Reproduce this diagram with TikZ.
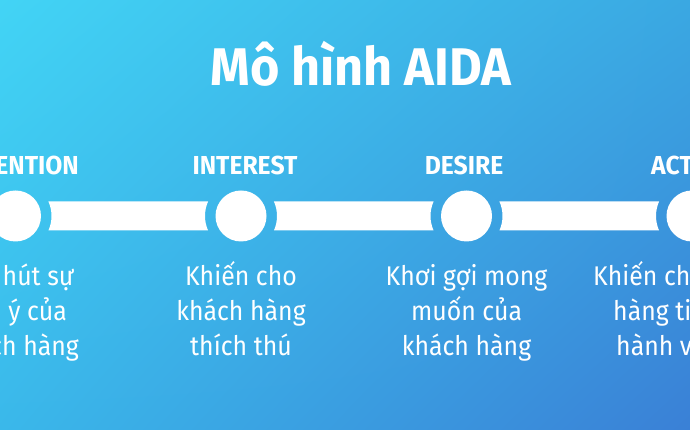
\documentclass[tikz,border=0pt]{standalone}
\usepackage{fontspec}
\setmainfont{Fira Sans}[FakeStretch=0.92]
\newfontfamily\titlefont{Fira Sans}[FakeStretch=0.95]
\usetikzlibrary{calc,shadings}
\definecolor{bgTL}{RGB}{66,212,245}
\definecolor{bgTR}{RGB}{58,168,226}
\definecolor{bgBL}{RGB}{58,184,234}
\definecolor{bgBR}{RGB}{58,128,214}
\newcommand\connbar[2]{%
  \fill[white] ($(#1)+(23.75:36)$) -- ($(#2)+(156.25:36)$)
    arc[start angle=156.25, end angle=203.75, radius=36]
    -- ($(#1)+(-23.75:36)$)
    arc[start angle=-23.75, end angle=23.75, radius=36] -- cycle;}
\tikzset{
  dot/.style={circle, fill=white, minimum size=51pt, inner sep=0pt},
  steplabel/.style={text=white, anchor=base, inner sep=0pt, font=\titlefont\bfseries\fontsize{26}{26}\selectfont},
  desc/.style={text=white, anchor=base, inner sep=0pt, font=\fontsize{27}{35}\selectfont},
  titletext/.style={text=white, anchor=base, inner sep=0pt, font=\titlefont\bfseries\fontsize{53}{53}\selectfont}
}
\begin{document}
\begin{tikzpicture}[x=1pt,y=1pt]
\useasboundingbox (0,0) rectangle (690,430);
\clip (0,0) rectangle (690,430);
\shade[upper left=bgTL, upper right=bgTR, lower left=bgBL, lower right=bgBR] (0,0) rectangle (690,430);
\node[titletext] (title) at (361,344) {Mô hình AIDA};
\node[dot] (c1) at (15.5,214) {};
\node[dot] (c2) at (241,214) {};
\node[dot] (c3) at (466.5,214) {};
\node[dot] (c4) at (692,214) {};
\connbar{c1}{c2}
\connbar{c2}{c3}
\connbar{c3}{c4}
\node[steplabel, anchor=base east] (l1) at (79,255) {ATTENTION};
\node[steplabel] (l2) at (245,255) {INTEREST};
\node[steplabel] (l3) at (464,255) {DESIRE};
\node[steplabel, anchor=base west] (l4) at (651,255) {ACTION};
\node[desc, anchor=base east] (d1a) at (74,144) {Thu hút sự};
\node[desc, anchor=base east] (d1b) at (67,109) {chú ý của};
\node[desc, anchor=base east] (d1c) at (79,74) {khách hàng};
\node[desc] (d2a) at (241,144) {Khiến cho};
\node[desc] (d2b) at (241,109) {khách hàng};
\node[desc] (d2c) at (241,74) {thích thú};
\node[desc] (d3a) at (466.5,144) {Khơi gợi mong};
\node[desc] (d3b) at (466.5,109) {muốn của};
\node[desc] (d3c) at (466.5,74) {khách hàng};
\node[desc, anchor=base west] (d4a) at (593,144) {Khiến cho khách};
\node[desc, anchor=base west] (d4b) at (613,109) {hàng tiến hành};
\node[desc, anchor=base west] (d4c) at (616,74) {hành vi mua};
\end{tikzpicture}
\end{document}
